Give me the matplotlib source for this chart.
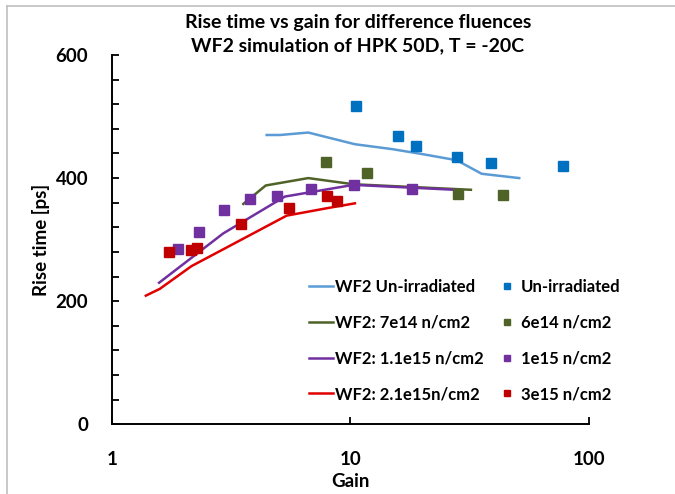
import matplotlib
matplotlib.use("Agg")
import matplotlib.pyplot as plt
from matplotlib.ticker import MultipleLocator, FixedLocator, FixedFormatter
from matplotlib.lines import Line2D

plt.rcParams['font.family'] = ['Lato', 'DejaVu Sans']
plt.rcParams['font.weight'] = 'bold'

# simulation curves (WF2)
sim_unirr_gain = [4.46, 5.07, 6.66, 10.45, 15.0, 20.0, 27.9, 35.5, 51.0]
sim_unirr_rise = [470, 470, 474, 455, 447, 439, 429, 407, 400]

sim_7e14_gain = [3.56, 4.42, 6.66, 10.3, 32.0]
sim_7e14_rise = [358, 388, 400, 390, 381]

sim_11e15_gain = [1.58, 2.93, 5.32, 10.3, 27.4]
sim_11e15_rise = [230, 310, 370, 389, 381]

sim_21e15_gain = [1.39, 1.59, 2.16, 5.41, 7.96, 10.45]
sim_21e15_rise = [209, 220, 257, 339, 351, 359]

# measured data
meas_unirr_gain = [10.55, 15.9, 18.8, 28.1, 38.7, 78.0]
meas_unirr_rise = [517, 468, 452, 435, 424, 420]

meas_6e14_gain = [7.9, 11.7, 28.3, 43.7]
meas_6e14_rise = [426, 408, 374, 373]

meas_1e15_gain = [1.89, 2.33, 2.95, 3.79, 4.94, 6.82, 10.35, 18.1]
meas_1e15_rise = [284, 312, 348, 366, 371, 382, 388, 382]

meas_3e15_gain = [1.73, 2.14, 2.27, 3.47, 5.51, 7.96, 8.79]
meas_3e15_rise = [280, 283, 287, 325, 352, 371, 363]

x_ticks = [1, 10, 100]
x_tick_labels = ['1', '10', '100']
y_ticks = [0, 200, 400, 600]

fig = plt.figure(figsize=(6.75, 4.94), dpi=100)
ax = fig.add_axes([0.1655, 0.1411, 0.7071, 0.7476])

lw = 1.8
ax.plot(sim_unirr_gain, sim_unirr_rise, color='#5B9BD5', lw=lw, label='WF2 Un-irradiated')
ax.plot(sim_7e14_gain, sim_7e14_rise, color='#4F6228', lw=lw, label='WF2: 7e14 n/cm2')
ax.plot(sim_11e15_gain, sim_11e15_rise, color='#7030A0', lw=lw, label='WF2: 1.1e15 n/cm2')
ax.plot(sim_21e15_gain, sim_21e15_rise, color='#E00000', lw=lw, label='WF2: 2.1e15n/cm2')

ms = 6.5
ax.plot(meas_unirr_gain, meas_unirr_rise, 's', color='#0070C0', ms=ms, label='Un-irradiated')
ax.plot(meas_6e14_gain, meas_6e14_rise, 's', color='#4F6228', ms=ms, label='6e14 n/cm2')
ax.plot(meas_1e15_gain, meas_1e15_rise, 's', color='#7030A0', ms=ms, label='1e15 n/cm2')
ax.plot(meas_3e15_gain, meas_3e15_rise, 's', color='#C00000', ms=ms, label='3e15 n/cm2')

ax.set_xscale('log')
ax.set_xlim(1, 100)
ax.set_ylim(0, 600)
ax.xaxis.set_major_locator(FixedLocator(x_ticks))
ax.xaxis.set_major_formatter(FixedFormatter(x_tick_labels))
ax.xaxis.set_minor_locator(FixedLocator([]))
ax.yaxis.set_major_locator(FixedLocator(y_ticks))
ax.yaxis.set_minor_locator(MultipleLocator(40))

for s in ['top', 'right']:
    ax.spines[s].set_visible(False)
for s in ['left', 'bottom']:
    ax.spines[s].set_linewidth(1.4)
ax.tick_params(which='both', direction='in', length=5, width=1.3, labelsize=13.5, pad=17)
ax.tick_params(axis='x', pad=19)

ax.set_xlabel('Gain', fontsize=13.5, fontweight='bold', labelpad=4)
ax.set_ylabel('Rise time [ps]', fontsize=13.5, fontweight='bold', labelpad=4)

fig.text(0.530, 0.955, 'Rise time vs gain for difference fluences', ha='center', va='center',
         fontsize=14, fontweight='bold')
fig.text(0.530, 0.908, 'WF2 simulation of HPK 50D, T = -20C', ha='center', va='center',
         fontsize=14, fontweight='bold')

ax.legend(ncol=2, frameon=False, fontsize=12, markerscale=0.7,
          handlelength=1.44, handletextpad=0.12, columnspacing=0.66, labelspacing=1.18,
          loc='upper left', bbox_to_anchor=(0.4134, 0.3926), borderaxespad=0, borderpad=0)

# chart border (left and top visible)
fig.add_artist(Line2D([7 / 675, 7 / 675], [0, 1 - 6 / 494], color='#BFBFBF', lw=1.2))
fig.add_artist(Line2D([7 / 675, 1], [1 - 6 / 494, 1 - 6 / 494], color='#BFBFBF', lw=1.2))

fig.savefig('out.png', dpi=100)
